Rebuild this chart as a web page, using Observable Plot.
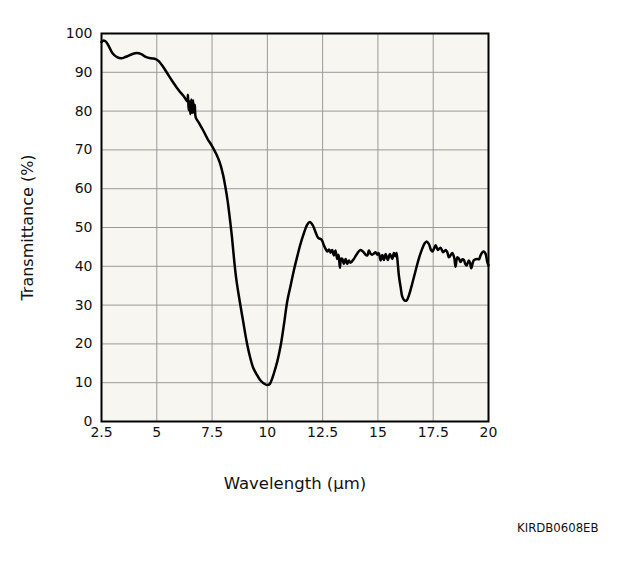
<!DOCTYPE html>
<html>
<head>
<meta charset="utf-8">
<script src="https://cdn.jsdelivr.net/npm/d3@7"></script>
<script src="https://cdn.jsdelivr.net/npm/@observablehq/plot@0.6"></script>
<style>
  html, body { margin: 0; padding: 0; background: #ffffff; }
  #chart svg { display: block; }
</style>
</head>
<body>
<div id="chart"></div>
<script>
const wavelength = [
  2.5, 2.6, 2.7, 2.85, 3.0, 3.2, 3.4, 3.6, 3.85, 4.1, 4.3, 4.5, 4.75, 4.95,
  5.1, 5.3, 5.5, 5.75, 6.0, 6.25, 6.38,
  6.41, 6.44, 6.48, 6.52, 6.56, 6.6, 6.64, 6.68, 6.72, 6.76,
  6.9, 7.1, 7.3, 7.5, 7.7, 7.85, 8.0, 8.1, 8.2, 8.3, 8.4, 8.5, 8.6, 8.75,
  8.9, 9.05, 9.2, 9.35, 9.5, 9.7, 9.9, 10.0, 10.1, 10.2, 10.3, 10.45, 10.6,
  10.75, 10.9, 11.05, 11.2, 11.35, 11.5, 11.65, 11.8, 11.92, 12.05, 12.18,
  12.3, 12.45, 12.55, 12.65, 12.71, 12.8, 12.86, 12.93, 13.01, 13.08, 13.16,
  13.22, 13.28, 13.34, 13.39, 13.46, 13.54, 13.61, 13.69, 13.76, 13.91, 14.05,
  14.21, 14.36, 14.45, 14.52, 14.59, 14.67, 14.74, 14.82, 14.89, 14.97, 15.04,
  15.12, 15.2, 15.27, 15.35, 15.45, 15.54, 15.65, 15.72, 15.79, 15.84, 15.9,
  15.95, 16.03, 16.1, 16.2, 16.3, 16.4, 16.55, 16.7, 16.85, 17.0, 17.1, 17.2,
  17.3, 17.4, 17.46, 17.53, 17.61, 17.71, 17.83, 17.95, 18.06, 18.14, 18.21,
  18.36, 18.45, 18.51, 18.59, 18.66, 18.74, 18.82, 18.89, 18.95, 19.01, 19.11,
  19.17, 19.22, 19.34, 19.49, 19.57, 19.64, 19.72, 19.79, 19.87, 19.94, 20.0
];
const transmittance = [
  97.8, 98.2, 97.9, 96.5, 94.9, 93.9, 93.6, 94.0, 94.6, 95.0, 94.7, 94.0, 93.6, 93.4,
  92.8, 91.3, 89.5, 87.3, 85.3, 83.6, 82.5,
  84.2, 80.2, 82.5, 79.2, 83.0, 79.5, 82.8, 79.6, 81.6, 78.4,
  77.0, 75.0, 72.8, 71.0, 68.8, 66.7, 63.5, 60.5, 57.0, 52.5, 47.5, 41.5, 36.5, 31.0,
  26.0, 21.0, 17.0, 14.0, 12.3, 10.5, 9.6, 9.4, 9.6, 10.8, 12.5, 15.5, 19.5,
  25.0, 31.0, 35.0, 39.0, 42.5, 45.8, 48.5, 50.7, 51.4, 50.6, 48.8,
  47.3, 46.9, 45.5, 44.3, 43.8, 44.3, 43.5, 44.2, 42.8, 44.1, 41.9,
  43.0, 39.6, 42.0, 41.9, 40.6, 41.9, 40.6, 41.5, 40.9, 41.9, 43.2,
  44.2, 43.6, 42.9, 42.8, 44.1, 43.2, 43.0, 43.3, 43.6, 43.0, 43.4,
  41.5, 42.9, 41.6, 43.2, 41.6, 43.2, 41.9, 43.4, 42.6, 43.4, 40.5,
  37.5, 34.5, 32.2, 31.2, 31.2, 32.5, 35.5, 38.8, 42.0, 44.5, 45.8, 46.4,
  45.8, 44.2, 43.8, 44.5, 45.4, 44.2, 44.8, 43.6, 44.2, 43.6, 42.3,
  43.4, 42.2, 39.9, 42.3, 42.0, 41.1, 41.8, 41.6, 40.6, 40.2, 41.5,
  40.8, 39.5, 41.6, 41.9, 41.8, 42.8, 43.6, 43.8, 43.2, 41.2, 40.2
];
const xTicks = [2.5, 5, 7.5, 10, 12.5, 15, 17.5, 20];
const yTicks = [0, 10, 20, 30, 40, 50, 60, 70, 80, 90, 100];
const xLabel = "Wavelength (µm)";
const yLabel = "Transmittance (%)";
const caption = "KIRDB0608EB";

const data = wavelength.map((w, i) => ({w, t: transmittance[i]}));

const chart = Plot.plot({
  width: 630,
  height: 564,
  marginTop: 33,
  marginBottom: 143,
  marginLeft: 101,
  marginRight: 142,
  style: {fontFamily: "'DejaVu Sans', Verdana, sans-serif", fontSize: "14px", color: "#111", background: "#ffffff"},
  x: {domain: [2.5, 20]},
  y: {domain: [0, 100]},
  marks: [
    Plot.frame({fill: "#f7f6f0", stroke: null}),
    Plot.gridX(xTicks, {stroke: "#9a9a9a", strokeOpacity: 1, strokeWidth: 1}),
    Plot.gridY(yTicks, {stroke: "#9a9a9a", strokeOpacity: 1, strokeWidth: 1}),
    Plot.axisX(xTicks, {tickSize: 0, tickPadding: 6, tickFormat: d => String(d), label: null, fontSize: 14}),
    Plot.axisY(yTicks, {tickSize: 0, tickPadding: 9, tickFormat: d => String(d), label: null, fontSize: 14}),
    Plot.line(data, {x: "w", y: "t", stroke: "#000", strokeWidth: 2.5, curve: "catmull-rom"}),
    Plot.frame({stroke: "#000", strokeWidth: 2}),
    Plot.text([xLabel], {frameAnchor: "bottom", dy: 62, lineAnchor: "middle", textAnchor: "middle", text: d => d, fontSize: 16.5, fill: "#111"}),
    Plot.text([yLabel], {frameAnchor: "left", dx: -74, rotate: -90, lineAnchor: "middle", textAnchor: "middle", text: d => d, fontSize: 16, fill: "#111"}),
    Plot.text([caption], {frameAnchor: "bottom-right", dx: 110, dy: 106, lineAnchor: "middle", textAnchor: "end", text: d => d, fontSize: 13, fontFamily: "'DejaVu Sans Condensed', 'DejaVu Sans', sans-serif", fontStretch: "condensed", fill: "#111"})
  ]
});
document.getElementById("chart").appendChild(chart);
</script>
</body>
</html>
